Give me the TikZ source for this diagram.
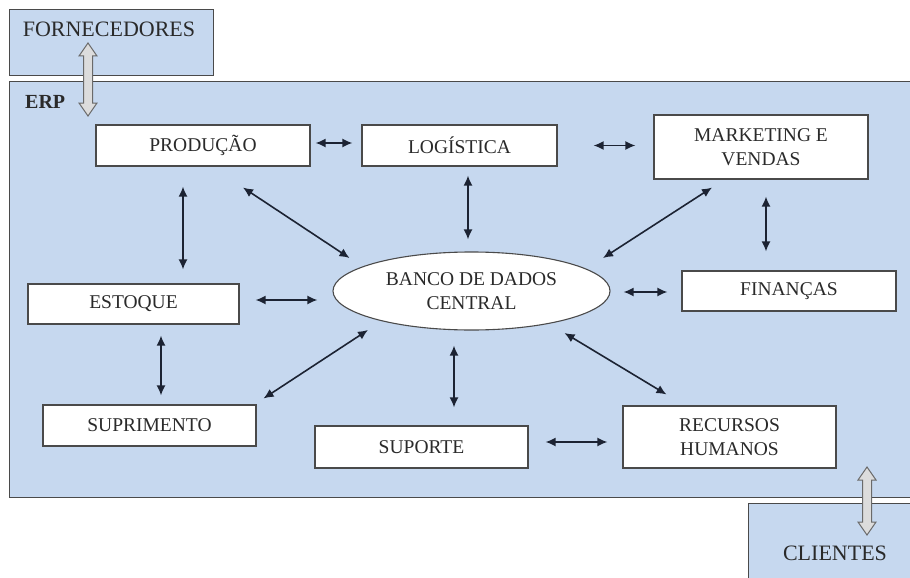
\documentclass[tikz,border=0pt]{standalone}
\usepackage{fontspec}
\setmainfont{Liberation Serif}
\usetikzlibrary{arrows.meta,shapes.geometric}
\definecolor{erpblue}{HTML}{C6D8EF}
\definecolor{edgegray}{HTML}{4A4A4A}
\definecolor{ink}{HTML}{2A2A2A}
\definecolor{arrowink}{HTML}{1C2333}
\definecolor{hollowfill}{HTML}{DCDCDC}
\definecolor{hollowedge}{HTML}{6A6A6A}
\newcommand{\hollowdbl}[3]{%
  \draw[hollowarrow] (#1,#2) -- (#1+9,#2+13) -- (#1+4.5,#2+13) -- (#1+4.5,#3-13) -- (#1+9,#3-13) -- (#1,#3)
    -- (#1-9,#3-13) -- (#1-4.5,#3-13) -- (#1-4.5,#2+13) -- (#1-9,#2+13) -- cycle;}
\begin{document}
\begin{tikzpicture}[x=1pt,y=-1pt,
  boxnode/.style={draw=edgegray, line width=1.1pt, fill=white, inner sep=0pt, align=center,
    text=ink, font=\fontsize{19.5}{24}\selectfont},
  panel/.style={draw=edgegray, line width=1.1pt, fill=erpblue, inner sep=0pt, anchor=north west},
  paneltext/.style={text=ink, inner sep=0pt, anchor=base, font=\fontsize{22}{26}\selectfont},
  biarrow/.style={draw=arrowink, line width=1.6pt, {Latex[length=10pt,width=9pt]}-{Latex[length=10pt,width=9pt]}},
  hollowarrow/.style={draw=hollowedge, line width=1pt, fill=hollowfill}
]
\useasboundingbox (0,0) rectangle (910,578);
\fill[white] (0,0) rectangle (910,578);
\begin{scope}
\clip (0,0) rectangle (910,578);
% panels
\node[panel, minimum width=906, minimum height=416] (erp) at (9,81) {};
\node[panel, minimum width=204, minimum height=66] (forn) at (9,9) {};
\node[panel, minimum width=170, minimum height=80] (cli) at (748,503) {};
\node[paneltext] (forntext) at (109,37) {FORNECEDORES};
\node[paneltext] (clitext) at (835,560) {CLIENTES};
\node[paneltext, anchor=base west, font=\fontsize{20}{24}\selectfont\bfseries] (erptext) at (25,108) {ERP};

% boxes
\node[boxnode, minimum width=214, minimum height=41] (prod) at (203,145.5) {PRODUÇÃO};
\node[boxnode, minimum width=195, minimum height=41] (log) at (459.5,145.5) {LOGÍSTICA};
\node[boxnode, minimum width=214, minimum height=64] (mkt) at (761,147) {MARKETING E\\VENDAS};
\node[boxnode, minimum width=211, minimum height=40] (est) at (133.5,304) {ESTOQUE};
\node[boxnode, ellipse, minimum width=277, minimum height=78] (banco) at (471.5,291) {BANCO DE DADOS\\CENTRAL};
\node[boxnode, minimum width=214, minimum height=40] (fin) at (789,291) {FINANÇAS};
\node[boxnode, minimum width=213, minimum height=41] (sup) at (149.5,425.5) {SUPRIMENTO};
\node[boxnode, minimum width=213, minimum height=42] (supt) at (421.5,447) {SUPORTE};
\node[boxnode, minimum width=213, minimum height=62] (rh) at (729.5,437) {RECURSOS\\HUMANOS};

% connectors
\draw[biarrow, shorten <=5pt, shorten >=9pt] ([shift={(0,-2.5)}]prod.east) -- ([shift={(0,-2.5)}]log.west);
\draw[biarrow, shorten <=36pt, shorten >=18pt] (log.east) -- (log.east -| mkt.west);
\draw[biarrow, shorten <=20pt, shorten >=14pt] ([shift={(-20,0)}]prod.south) -- ([shift={(-20,0)}]prod.south |- est.north);
\draw[biarrow] ([shift={(40,21)}]prod.south) -- ([shift={(-122,-33)}]banco.center);
\draw[biarrow, shorten <=9pt, shorten >=12pt] ([shift={(8.5,0)}]log.south) -- ([shift={(-3.5,0)}]banco.north);
\draw[biarrow] ([shift={(-49,8)}]mkt.south) -- ([shift={(131.5,-33)}]banco.center);
\draw[biarrow, shorten <=17pt, shorten >=19pt] ([shift={(5,0)}]mkt.south) -- ([shift={(5,0)}]mkt.south |- fin.north);
\draw[biarrow, shorten <=16pt, shorten >=15pt] ([shift={(0,-4)}]est.east) -- ([shift={(0,9)}]banco.west);
\draw[biarrow, shorten <=13pt, shorten >=14pt] ([shift={(0,1)}]banco.east) -- ([shift={(0,1)}]fin.west);
\draw[biarrow, shorten <=11pt, shorten >=9pt] ([shift={(27.5,0)}]est.south) -- ([shift={(27.5,0)}]est.south |- sup.north);
\draw[biarrow] ([shift={(-103.5,39)}]banco.center) -- ([shift={(7,-6)}]sup.north east);
\draw[biarrow, shorten <=15pt, shorten >=18pt] ([shift={(-17.5,0)}]banco.south) -- ([shift={(-17.5,0)}]banco.south |- supt.north);
\draw[biarrow] ([shift={(93,42)}]banco.center) -- ([shift={(44,-11)}]rh.north west);
\draw[biarrow, shorten <=17pt, shorten >=15pt] ([shift={(0,-5)}]supt.east) -- ([shift={(0,5)}]rh.west);

% hollow double arrows
\hollowdbl{88}{43}{116}
\hollowdbl{867}{467}{535}
\end{scope}
\end{tikzpicture}
\end{document}
